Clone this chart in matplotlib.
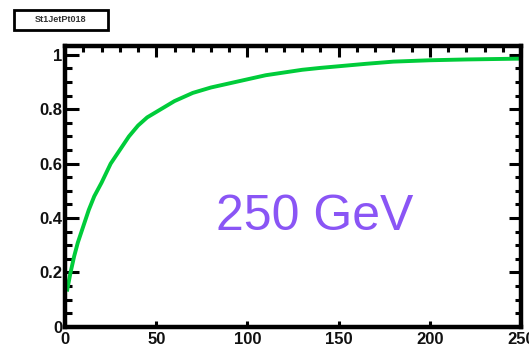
import matplotlib
matplotlib.use("Agg")
import matplotlib.pyplot as plt
from matplotlib.ticker import MultipleLocator, FixedFormatter, FixedLocator, NullLocator
from matplotlib.patches import Rectangle

# efficiency curve (jet pT in GeV)
pt = [1, 3, 5, 7, 10, 13, 16, 20, 25, 30, 35, 40, 45, 50, 60, 70, 80, 90,
      100, 110, 120, 130, 140, 150, 165, 180, 200, 220, 250]
eff = [0.13, 0.20, 0.26, 0.31, 0.37, 0.43, 0.48, 0.53, 0.60, 0.65, 0.70, 0.74,
       0.77, 0.79, 0.83, 0.86, 0.88, 0.895, 0.91, 0.925, 0.935, 0.945, 0.952,
       0.958, 0.967, 0.975, 0.980, 0.983, 0.986]

x_ticks = [0, 50, 100, 150, 200, 250]
y_ticks = [0, 0.2, 0.4, 0.6, 0.8, 1.0]
y_labels = ["0", "0.2", "0.4", "0.6", "0.8", "1"]
hist_name = "St1JetPt018"
energy_label = "250 GeV"

plt.rcParams['font.family'] = ['Liberation Sans', 'DejaVu Sans']

fig = plt.figure(figsize=(5.29, 3.5), dpi=100)
ax = fig.add_axes([0.123, 0.066, 0.862, 0.803])

ax.plot(pt, eff, color='#00cc3a', lw=2.8, solid_capstyle='butt')

ax.set_xlim(0, 250)
ax.set_ylim(0, 1.033)
ax.xaxis.set_major_locator(FixedLocator(x_ticks))
ax.xaxis.set_minor_locator(NullLocator())
ax.yaxis.set_major_locator(FixedLocator(y_ticks))
ax.yaxis.set_major_formatter(FixedFormatter(y_labels))
ax.yaxis.set_minor_locator(MultipleLocator(0.05))

for s in ax.spines.values():
    s.set_linewidth(3.2)
    s.set_capstyle('projecting')

# left / bottom ticks (bottom has only short major ticks)
ax.tick_params(which='both', direction='in', labelsize=12, labelcolor='#111111', pad=2)
ax.tick_params(axis='y', which='major', length=10, width=2.2)
ax.tick_params(axis='y', which='minor', length=5, width=2.2)
ax.tick_params(axis='x', which='major', length=4, width=2.2, pad=4)
for lab in ax.get_xticklabels() + ax.get_yticklabels():
    lab.set_fontweight('bold')

# top and right ticks, no labels
top = ax.secondary_xaxis('top')
top.xaxis.set_major_locator(FixedLocator(x_ticks))
top.xaxis.set_minor_locator(MultipleLocator(10))
top.tick_params(which='both', direction='in', labeltop=False, width=2.2)
top.tick_params(which='major', length=8)
top.tick_params(which='minor', length=4.5)
top.spines['top'].set_visible(False)

right = ax.secondary_yaxis('right')
right.yaxis.set_major_locator(FixedLocator(y_ticks))
right.yaxis.set_minor_locator(MultipleLocator(0.05))
right.tick_params(which='both', direction='in', labelright=False, width=2.2)
right.tick_params(which='major', length=9)
right.tick_params(which='minor', length=4)
right.spines['right'].set_visible(False)

ax.text(0.548, 0.345, energy_label, transform=ax.transAxes, color='#8a55f5',
        fontsize=36, ha='center', va='baseline')

# small histogram name box in the corner
fig.patches.append(Rectangle((14 / 529, 1 - 30 / 350), 94 / 529, 20 / 350,
                             transform=fig.transFigure, fill=False,
                             lw=2, ec='black'))
fig.text(61 / 529, 1 - 20 / 350, hist_name, fontsize=6.5, fontweight='bold',
         ha='center', va='center', color='#333333')

fig.savefig("out.png", dpi=100)
